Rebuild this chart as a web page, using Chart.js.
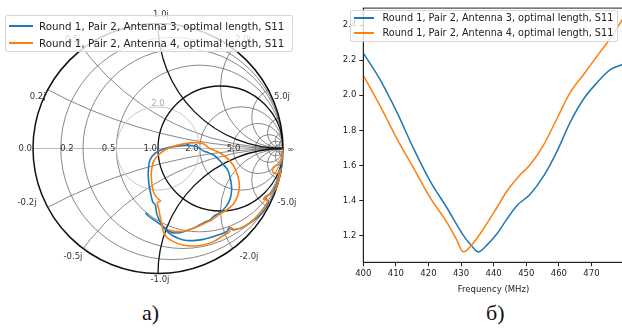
<!DOCTYPE html>
<html><head><meta charset="utf-8">
<script src="https://cdn.jsdelivr.net/npm/chart.js@4.4.1/dist/chart.umd.min.js"></script>
<style>
html,body{margin:0;padding:0;background:#fff;}
body{width:622px;height:334px;overflow:hidden;position:relative;}
#smith{position:absolute;left:0;top:0;}
#vswr{position:absolute;left:330px;top:0;}
.legend{position:absolute;background:rgba(255,255,255,0.8);border:1px solid rgba(204,204,204,0.8);border-radius:3px;font-family:"DejaVu Sans",sans-serif;color:#222;box-sizing:border-box;}
.legend .row{position:absolute;white-space:nowrap;line-height:1;}
.legend .sw{position:absolute;height:2px;}
.caption{position:absolute;font-family:"Liberation Serif",serif;font-size:22px;color:#111;line-height:1;}
</style></head>
<body>
<canvas id="smith" width="320" height="300"></canvas>
<canvas id="vswr" width="300" height="300"></canvas>
<div id="legSmith" class="legend" style="left:5px;top:15px;width:288px;height:37px;font-size:10.3px;"></div>
<div id="legVswr" class="legend" style="left:350px;top:10px;width:268px;height:32px;font-size:9.7px;"></div>
<div class="caption" style="left:142px;top:302px;">a)</div>
<div class="caption" style="left:486px;top:302px;">б)</div>
<script>
// ---------- data ----------
const seriesLabels = [
  "Round 1, Pair 2, Antenna 3, optimal length, S11",
  "Round 1, Pair 2, Antenna 4, optimal length, S11"
];
const seriesColors = ["#1f77b4", "#ff7f0e"];

// Smith chart: reflection coefficient (real, imaginary)
const a3Re = [0.998,0.996,0.99,0.976,0.949,0.909,0.856,0.883,0.856,0.811,0.741,0.669,0.603,0.571,0.549,0.456,0.363,0.283,0.203,0.123,0.061,0.016,-0.011,-0.021,-0.043,-0.059,-0.075,-0.077,-0.064,-0.024,0.043,0.123,0.216,0.296,0.336,0.357,0.403,0.456,0.509,0.557,0.581,0.589,0.576,0.544,0.496,0.443,0.416,0.368,0.309,0.243,0.176,0.109,0.043,-0.024,-0.077,-0.099];
const a3Im = [-0.012,-0.065,-0.13,-0.212,-0.284,-0.353,-0.393,-0.425,-0.487,-0.54,-0.593,-0.633,-0.652,-0.633,-0.665,-0.7,-0.727,-0.737,-0.732,-0.7,-0.652,-0.585,-0.519,-0.452,-0.425,-0.359,-0.265,-0.172,-0.092,-0.039,-0.004,0.015,0.025,0.02,0.001,-0.017,-0.033,-0.06,-0.113,-0.172,-0.252,-0.332,-0.407,-0.465,-0.513,-0.545,-0.572,-0.593,-0.625,-0.652,-0.673,-0.671,-0.625,-0.577,-0.54,-0.513];
const a4Re = [0.999,0.996,0.99,0.976,0.944,0.917,0.923,0.957,0.979,0.975,0.96,0.94,0.901,0.861,0.843,0.877,0.856,0.803,0.736,0.669,0.608,0.581,0.571,0.509,0.443,0.363,0.277,0.197,0.123,0.069,0.043,0.029,0.016,0.005,-0.005,0.021,-0.011,-0.037,-0.051,-0.053,-0.037,0.003,0.069,0.149,0.229,0.309,0.368,0.411,0.456,0.509,0.563,0.608,0.64,0.651,0.635,0.603,0.549,0.483,0.429,0.389,0.336,0.277,0.216,0.149,0.083];
const a4Im = [0.0,-0.044,-0.087,-0.124,-0.137,-0.159,-0.193,-0.199,-0.167,-0.212,-0.27,-0.327,-0.364,-0.385,-0.404,-0.415,-0.465,-0.532,-0.593,-0.633,-0.647,-0.633,-0.665,-0.705,-0.745,-0.772,-0.78,-0.772,-0.745,-0.71,-0.665,-0.599,-0.54,-0.479,-0.433,-0.42,-0.391,-0.345,-0.265,-0.185,-0.105,-0.052,-0.004,0.025,0.041,0.047,0.036,0.001,-0.017,-0.044,-0.087,-0.145,-0.225,-0.305,-0.385,-0.444,-0.492,-0.532,-0.572,-0.591,-0.617,-0.641,-0.66,-0.665,-0.652];

// Smith grid values
const rLight = [0.125,0.25,0.5,2,4,8,16,32];
const xLight = [0.25,0.5,2,4,8,16,32];
const rHeavy = [1];
const xHeavy = [1];
const vswrCircles = [2.0];
const rLabels = [0.0,0.2,0.5,1.0,2.0,5.0];
const xLabelsPos = [0.2,0.5,1.0,2.0,5.0];
const xLabelsNeg = [-0.2,-0.5,-1.0,-2.0,-5.0];

// VSWR vs frequency
const freqA3 = [400,405.1,410.3,415.4,420.5,425.6,430.7,433,435.3,437.9,441.0,444.1,447.1,451.2,455.3,459.4,463.5,467.6,471.7,475.8,479.5];
const vswrA3 = [2.241,2.091,1.904,1.697,1.510,1.359,1.200,1.145,1.105,1.144,1.209,1.294,1.369,1.435,1.538,1.678,1.847,1.979,2.072,2.147,2.176];
const freqA4 = [400,405.1,410.3,415.4,420.5,425.6,428.5,430.7,433.8,436.9,441.0,444.1,448.2,451.2,455.3,459.4,463.5,467.6,471.7,475.8,479.5];
const vswrA4 = [2.114,1.941,1.753,1.585,1.416,1.275,1.18,1.106,1.157,1.238,1.359,1.453,1.547,1.603,1.716,1.866,2.016,2.119,2.223,2.326,2.433];
const xTicks = [400,410,420,430,440,450,460,470];
const yTicks = [1.2,1.4,1.6,1.8,2.0,2.2,2.4];
const xTitle = "Frequency (MHz)";

// ---------- helpers ----------
const zip = (a,b)=>a.map((v,i)=>({x:v,y:b[i]}));

// label pixel offsets (relative to the grid point)
const imagOffsets = {"0.2":[-5,-3.4],"0.5":[-10,-8.5],"1":[3,-8.5],"2":[10,-8.5],"5":[8.6,-3.4],
                     "-0.2":[-15.6,6.4],"-0.5":[-10,8.5],"-1":[2,6.5],"-2":[16,8.5],"-5":[13.6,6.4]};

const smithGrid = {
  id:'smithGrid',
  beforeDatasetsDraw(chart){
    const {ctx, scales:{x,y}} = chart;
    const px = v=>x.getPixelForValue(v), py = v=>y.getPixelForValue(v);
    const cx = px(0), cy = py(0), R = px(1)-px(0);
    const circ = (gx,gy,gr)=>{ctx.beginPath();ctx.arc(px(gx),py(gy),gr*R,0,Math.PI*2);ctx.stroke();};
    ctx.save();
    ctx.beginPath(); ctx.arc(cx,cy,R,0,Math.PI*2); ctx.clip();
    ctx.strokeStyle='#bbbbbb'; ctx.lineWidth=1;
    ctx.beginPath(); ctx.moveTo(px(-1),cy); ctx.lineTo(px(1),cy); ctx.stroke();
    ctx.strokeStyle='#6a6a6a'; ctx.lineWidth=0.8;
    rLight.forEach(r=>circ(r/(1+r),0,1/(1+r)));
    xLight.forEach(v=>{circ(1,1/v,1/v); circ(1,-1/v,1/v);});
    ctx.strokeStyle='#c8c8c8'; ctx.lineWidth=1;
    vswrCircles.forEach(s=>circ(0,0,(s-1)/(s+1)));
    ctx.strokeStyle='#111'; ctx.lineWidth=1.3;
    rHeavy.forEach(r=>circ(r/(1+r),0,1/(1+r)));
    xHeavy.forEach(v=>{circ(1,1/v,1/v); circ(1,-1/v,1/v);});
    ctx.restore();
    ctx.save();
    ctx.strokeStyle='#111'; ctx.lineWidth=1.5;
    ctx.beginPath(); ctx.arc(cx,cy,R,0,Math.PI*2); ctx.stroke();
    ctx.font='8.5px "DejaVu Sans"';
    ctx.fillStyle='#333';
    ctx.textBaseline='middle';
    ctx.textAlign='right';
    rLabels.forEach(r=>{
      const g=(r-1)/(r+1);
      ctx.fillText(r.toFixed(1), px(g)-1, cy);
    });
    ctx.textAlign='left';
    ctx.fillText('\u221e', px(1)+4, cy+1);
    ctx.textAlign='center';
    xLabelsPos.concat(xLabelsNeg).forEach(v=>{
      const re=(v*v-1)/(v*v+1), im=2*v/(v*v+1);
      const o=imagOffsets[String(v)];
      const txt=(v<0?'-':'')+Math.abs(v).toFixed(1)+'j';
      ctx.fillText(txt, px(re)+o[0], py(im)+o[1]);
    });
    ctx.fillStyle='#aaa';
    vswrCircles.forEach(s=>{
      ctx.fillText(s.toFixed(1), cx, py((s-1)/(s+1))-3);
    });
    ctx.restore();
  }
};

new Chart(document.getElementById('smith'), {
  type:'scatter',
  data:{datasets:[
    {label:seriesLabels[0], data:zip(a3Re,a3Im), showLine:true, borderColor:seriesColors[0], borderWidth:1.6, pointRadius:0, fill:false, tension:0.3, order:1},
    {label:seriesLabels[1], data:zip(a4Re,a4Im), showLine:true, borderColor:seriesColors[1], borderWidth:1.6, pointRadius:0, fill:false, tension:0.3, order:0}
  ]},
  options:{
    responsive:false, animation:false,
    layout:{padding:{left:33,right:37,top:23.5,bottom:26.5}},
    scales:{x:{type:'linear',min:-1,max:1,display:false},y:{type:'linear',min:-1,max:1,display:false}},
    plugins:{legend:{display:false},tooltip:{enabled:false}}
  },
  plugins:[smithGrid]
});

const frame = {
  id:'frame',
  afterDatasetsDraw(chart){
    const {ctx, chartArea:a} = chart;
    ctx.save(); ctx.strokeStyle='#222'; ctx.lineWidth=1;
    ctx.strokeRect(a.left, a.top, a.right-a.left, a.bottom-a.top);
    ctx.restore();
  }
};

const tickFont = {family:'DejaVu Sans', size:8.5};
new Chart(document.getElementById('vswr'), {
  type:'line',
  data:{datasets:[
    {label:seriesLabels[0], data:zip(freqA3,vswrA3), borderColor:seriesColors[0], borderWidth:1.5, pointRadius:0, cubicInterpolationMode:'monotone', order:1},
    {label:seriesLabels[1], data:zip(freqA4,vswrA4), borderColor:seriesColors[1], borderWidth:1.5, pointRadius:0, cubicInterpolationMode:'monotone', order:0}
  ]},
  options:{
    responsive:false, animation:false,
    layout:{padding:{left:0,right:6.3,top:4.3,bottom:4.7}},
    scales:{
      x:{type:'linear', min:400, max:479.9,
        afterBuildTicks:s=>{s.ticks=xTicks.map(v=>({value:v}));},
        afterFit:s=>{s.height=33;},
        ticks:{font:tickFont, color:'#222', padding:2, maxRotation:0, autoSkip:false, callback:v=>String(v)},
        grid:{display:true, drawOnChartArea:false, drawTicks:true, tickLength:4, color:'#222'},
        border:{display:true, color:'#222', width:1},
        title:{display:true, text:xTitle, font:tickFont, color:'#222', padding:{top:8,bottom:0}}
      },
      y:{type:'linear', min:1.046, max:2.498,
        afterBuildTicks:s=>{s.ticks=yTicks.map(v=>({value:v}));},
        afterFit:s=>{s.width=33.3;},
        ticks:{font:tickFont, color:'#222', padding:3, callback:v=>Number(v).toFixed(1)},
        grid:{display:true, drawOnChartArea:false, drawTicks:true, tickLength:4, color:'#222'},
        border:{display:true, color:'#222', width:1}
      }
    },
    plugins:{legend:{display:false},tooltip:{enabled:false}}
  },
  plugins:[frame]
});

// ---------- HTML legends ----------
function buildLegend(el, swLeft, swWidth, textLeft, rowTops){
  seriesLabels.forEach((lab,i)=>{
    const sw=document.createElement('div'); sw.className='sw';
    sw.style.left=swLeft+'px'; sw.style.width=swWidth+'px';
    sw.style.top=Math.round(rowTops[i]-1)+'px'; sw.style.backgroundColor=seriesColors[i];
    el.appendChild(sw);
    const row=document.createElement('div'); row.className='row';
    row.style.left=textLeft+'px'; row.style.top=(rowTops[i]-5)+'px';
    row.textContent=lab; el.appendChild(row);
  });
}
buildLegend(document.getElementById('legSmith'), 3, 24, 33, [10, 26.5]);
buildLegend(document.getElementById('legVswr'), 3, 20, 31.5, [7.3, 22.3]);
</script>
</body></html>
